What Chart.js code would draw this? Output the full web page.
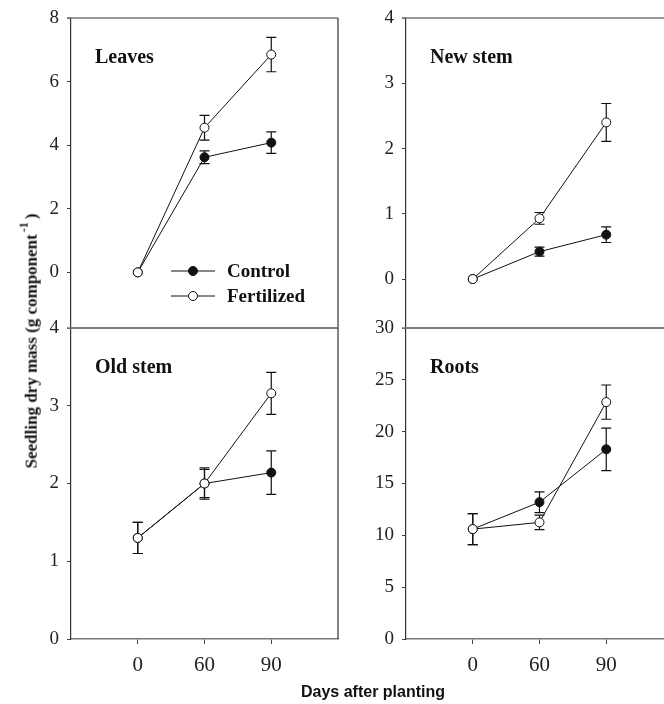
<!DOCTYPE html>
<html><head><meta charset="utf-8">
<script src="https://cdn.jsdelivr.net/npm/chart.js@4.4.0/dist/chart.umd.min.js"></script>
<style>
html,body{margin:0;padding:0;width:664px;height:704px;overflow:hidden;background:#fff;position:relative;}
canvas{position:absolute;}
#ytitle{position:absolute;left:30px;top:341px;transform:translate(-50%,-50%) rotate(-90deg);font:bold 17px "Liberation Serif";white-space:nowrap;color:#111;}
#ytitle sup{font-size:12px;position:relative;top:-2px;margin-left:2px;margin-right:3px;}
#xtitle{position:absolute;left:373px;top:692px;transform:translate(-50%,-50%);font:bold 16px "Liberation Sans";white-space:nowrap;color:#111;}
</style></head><body>
<canvas id="cLeaves" width="345" height="335" style="left:0;top:0;width:345px;height:335px"></canvas>
<canvas id="cNew" width="340" height="335" style="left:345px;top:0;width:340px;height:335px"></canvas>
<canvas id="cOld" width="345" height="404" style="left:0;top:300px;width:345px;height:404px"></canvas>
<canvas id="cRoots" width="340" height="404" style="left:345px;top:300px;width:340px;height:404px"></canvas>
<div id="ytitle">Seedling dry mass (g component<sup>-1</sup>)</div>
<div id="xtitle">Days after planting</div>
<script>
// ---- data ----
const days = ['0', '60', '90'];
const xPos = [0, 1, 2];

const leavesTicks = [0, 2, 4, 6, 8];
const leavesControl = [0, 3.62, 4.08];
const leavesControlErr = [0, 0.2, 0.34];
const leavesFert = [0, 4.55, 6.85];
const leavesFertErr = [0, 0.39, 0.54];

const newStemTicks = [0, 1, 2, 3, 4];
const newStemControl = [0, 0.42, 0.68];
const newStemControlErr = [0, 0.07, 0.12];
const newStemFert = [0, 0.93, 2.40];
const newStemFertErr = [0, 0.09, 0.29];

const oldStemTicks = [0, 1, 2, 3, 4];
const oldStemControl = [1.3, 2.0, 2.14];
const oldStemControlErr = [0.2, 0.2, 0.28];
const oldStemFert = [1.3, 2.0, 3.16];
const oldStemFertErr = [0.2, 0.18, 0.27];

const rootsTicks = [0, 5, 10, 15, 20, 25, 30];
const rootsControl = [10.6, 13.2, 18.3];
const rootsControlErr = [1.5, 1.0, 2.05];
const rootsFert = [10.6, 11.25, 22.85];
const rootsFertErr = [1.5, 0.7, 1.65];

const seriesNames = ['Control', 'Fertilized'];

// ---- plugins ----
const framePlugin = {
  id: 'frame',
  afterDraw(chart) {
    const {ctx, chartArea: a} = chart;
    ctx.save();
    ctx.strokeStyle = '#777'; ctx.lineWidth = 1.5;
    ctx.beginPath(); ctx.moveTo(a.left - 4, a.top); ctx.lineTo(a.right, a.top); ctx.stroke();
    if (!chart.options.scales.x.display) {
      ctx.beginPath(); ctx.moveTo(a.left, a.bottom); ctx.lineTo(a.right, a.bottom); ctx.stroke();
    }
    ctx.strokeStyle = '#333'; ctx.lineWidth = 1.2;
    ctx.beginPath(); ctx.moveTo(a.right, a.top); ctx.lineTo(a.right, a.bottom); ctx.stroke();
    ctx.restore();
  }
};

const errorPlugin = {
  id: 'errbars',
  beforeDatasetsDraw(chart) {
    const {ctx} = chart;
    const xs = chart.scales.x, ys = chart.scales.y;
    ctx.save();
    ctx.strokeStyle = '#111'; ctx.lineWidth = 1.2;
    chart.data.datasets.forEach(ds => {
      ds.errors.forEach((e, i) => {
        if (!e) return;
        const pt = ds.data[i];
        const x = xs.getPixelForValue(pt.x);
        const y1 = ys.getPixelForValue(pt.y + e);
        const y2 = ys.getPixelForValue(pt.y - e);
        ctx.beginPath();
        ctx.moveTo(x, y1); ctx.lineTo(x, y2);
        ctx.moveTo(x - 5, y1); ctx.lineTo(x + 5, y1);
        ctx.moveTo(x - 5, y2); ctx.lineTo(x + 5, y2);
        ctx.stroke();
      });
    });
    ctx.restore();
  }
};

function titlePlugin(text) {
  return {
    id: 'panelTitle',
    afterDraw(chart) {
      const {ctx, chartArea: a} = chart;
      ctx.save();
      ctx.font = 'bold 20px "Liberation Serif"';
      ctx.fillStyle = '#111';
      ctx.textBaseline = 'alphabetic';
      ctx.fillText(text, a.left + 24, a.top + 45);
      ctx.restore();
    }
  };
}

const legendPlugin = {
  id: 'innerLegend',
  afterDraw(chart) {
    const {ctx, chartArea: a} = chart;
    ctx.save();
    const rows = [{y: a.top + 253, fill: '#111'}, {y: a.top + 278, fill: '#fff'}];
    rows.forEach((r, i) => {
      ctx.strokeStyle = '#111'; ctx.lineWidth = 1;
      ctx.beginPath(); ctx.moveTo(a.left + 100, r.y); ctx.lineTo(a.left + 144, r.y); ctx.stroke();
      ctx.beginPath(); ctx.arc(a.left + 122, r.y, 4.5, 0, Math.PI * 2);
      ctx.fillStyle = r.fill; ctx.fill(); ctx.stroke();
      ctx.fillStyle = '#111';
      ctx.font = 'bold 19px "Liberation Serif"';
      ctx.textBaseline = 'middle';
      ctx.fillText(seriesNames[i], a.left + 156, r.y + 1);
    });
    ctx.restore();
  }
};

function makeChart(id, o) {
  const mk = (vals) => xPos.map((x, i) => ({x: x, y: vals[i]}));
  const plugins = [framePlugin, errorPlugin, titlePlugin(o.title)];
  if (o.legend) plugins.push(legendPlugin);
  return new Chart(document.getElementById(id), {
    type: 'line',
    data: {
      datasets: [
        {label: seriesNames[0], data: mk(o.control), errors: o.controlErr, order: 1,
         borderColor: '#111', borderWidth: 1, pointRadius: 4.5, pointBackgroundColor: '#111',
         pointBorderColor: '#111', pointBorderWidth: 1, tension: 0, fill: false},
        {label: seriesNames[1], data: mk(o.fert), errors: o.fertErr, order: 0,
         borderColor: '#111', borderWidth: 1, pointRadius: 4.5, pointBackgroundColor: '#fff',
         pointBorderColor: '#111', pointBorderWidth: 1, tension: 0, fill: false}
      ]
    },
    options: {
      responsive: false, animation: false, events: [],
      layout: {padding: {top: o.padTop, right: o.padRight, left: 0, bottom: o.bottom ? 0 : 7}},
      plugins: {legend: {display: false}, tooltip: {enabled: false}},
      scales: {
        x: {
          type: 'linear', min: -1, max: 3, display: o.bottom,
          afterBuildTicks: s => { s.ticks = xPos.map(v => ({value: v})); },
          ticks: {callback: v => days[v], font: {family: 'Liberation Serif', size: 21}, color: '#222',
                  padding: 9, maxRotation: 0, autoSkip: false},
          grid: {display: true, drawOnChartArea: false, drawTicks: true, tickLength: 5, color: '#444', lineWidth: 1},
          border: {display: true, color: '#777', width: 1.5},
          afterFit: s => { s.height = o.bottom ? 65 : 0; s.paddingLeft = 0; s.paddingRight = 0; }
        },
        y: {
          min: o.yMin, max: o.yMax,
          afterBuildTicks: s => { s.ticks = o.yTicks.map(v => ({value: v})); },
          ticks: {font: {family: 'Liberation Serif', size: 19}, color: '#222', padding: 8},
          grid: {drawOnChartArea: false, drawTicks: true, tickLength: 4, color: '#444'},
          border: {display: true, color: '#333', width: 1.2},
          afterFit: s => { s.width = o.axisW; s.paddingTop = 0; s.paddingBottom = 0; }
        }
      }
    },
    plugins: plugins
  });
}

makeChart('cLeaves', {title: 'Leaves', yMin: -1.75, yMax: 8, yTicks: leavesTicks,
  control: leavesControl, controlErr: leavesControlErr, fert: leavesFert, fertErr: leavesFertErr,
  bottom: false, axisW: 71, padTop: 18, padRight: 7, legend: true});
makeChart('cNew', {title: 'New stem', yMin: -0.75, yMax: 4, yTicks: newStemTicks,
  control: newStemControl, controlErr: newStemControlErr, fert: newStemFert, fertErr: newStemFertErr,
  bottom: false, axisW: 61, padTop: 18, padRight: 12});
makeChart('cOld', {title: 'Old stem', yMin: 0, yMax: 4, yTicks: oldStemTicks,
  control: oldStemControl, controlErr: oldStemControlErr, fert: oldStemFert, fertErr: oldStemFertErr,
  bottom: true, axisW: 71, padTop: 28, padRight: 7});
makeChart('cRoots', {title: 'Roots', yMin: 0, yMax: 30, yTicks: rootsTicks,
  control: rootsControl, controlErr: rootsControlErr, fert: rootsFert, fertErr: rootsFertErr,
  bottom: true, axisW: 61, padTop: 28, padRight: 12});
</script>
</body></html>
